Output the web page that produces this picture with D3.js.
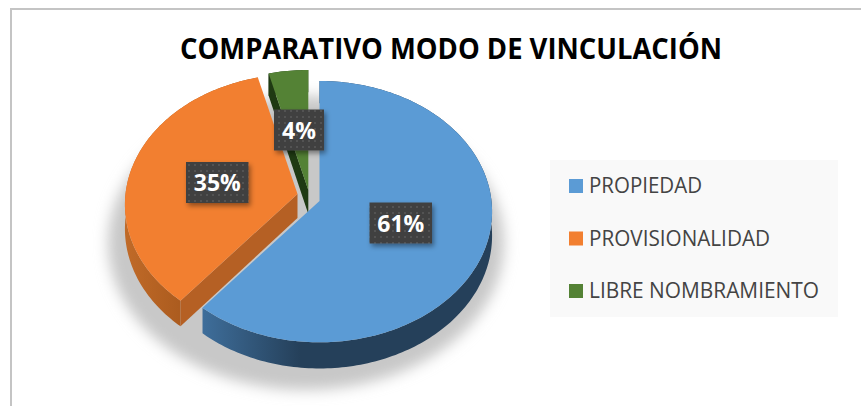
<!DOCTYPE html>
<html>
<head>
<meta charset="utf-8">
<script src="https://cdn.jsdelivr.net/npm/d3@7"></script>
<style>
  html, body { margin: 0; padding: 0; background: #fff; }
  svg { display: block; }
  text { font-family: "Open Sans", sans-serif; }
</style>
</head>
<body>
<div id="chart"></div>
<script>
const categories = ["PROPIEDAD", "PROVISIONALIDAD", "LIBRE NOMBRAMIENTO"];
const values = [61, 35, 4];
const title = "COMPARATIVO MODO DE VINCULACIÓN";

const colors = ["#5b9bd5", "#f27f30", "#548235"];
const W = 861, H = 406;

const svg = d3.select("#chart").append("svg").attr("width", W).attr("height", H);
const defs = svg.append("defs");

// Fake 3D: disk with a bit of perspective, front of the pie comes out larger
const rx = 172, ry = 129.8, persp = 0.0815, depth = 24;
// exploded apex of each slice
const apex = [[319.5, 201], [297.5, 194], [308.3, 190]];

function rim(a, i, down) {
  const X = Math.sin(a), Y = -Math.cos(a);
  const s = 1 / (1 - persp * Y);
  return [apex[i][0] + rx * X * s, apex[i][1] + ry * Y * s + (down ? depth * s : 0)];
}
function arcPoints(d, i, down) {
  const pts = d3.range(d.startAngle, d.endAngle, 0.02).map((a) => rim(a, i, down));
  pts.push(rim(d.endAngle, i, down));
  return pts;
}

const pie = d3.pie().sort(null);
const slices = pie(values);
const line = d3.line();

// Defs
const blur = defs.append("filter").attr("id", "soft").attr("x", "-20%").attr("y", "-20%").attr("width", "140%").attr("height", "140%");
blur.append("feGaussianBlur").attr("stdDeviation", 7);

const lblShadow = defs.append("filter").attr("id", "lblShadow").attr("x", "-30%").attr("y", "-30%").attr("width", "160%").attr("height", "160%");
lblShadow.append("feDropShadow").attr("dx", 2).attr("dy", 3).attr("stdDeviation", 2.5).attr("flood-color", "#000").attr("flood-opacity", 0.4);

const dots = defs.append("pattern").attr("id", "dots").attr("width", 6).attr("height", 6).attr("patternUnits", "userSpaceOnUse");
dots.append("rect").attr("width", 6).attr("height", 6).attr("fill", "#404040");
dots.append("rect").attr("x", 2).attr("y", 2).attr("width", 2).attr("height", 2).attr("fill", "#525252");

function wallGradient(id, x1, x2, c1, c2) {
  const g = defs.append("linearGradient").attr("id", id).attr("gradientUnits", "userSpaceOnUse")
    .attr("x1", x1).attr("x2", x2).attr("y1", 0).attr("y2", 0);
  g.append("stop").attr("offset", 0).attr("stop-color", c1);
  g.append("stop").attr("offset", 1).attr("stop-color", c2);
}
wallGradient("wallBlue", 200, 300, "#3f6f9c", "#25405a");
wallGradient("wallOrange", 125, 190, "#c06a28", "#a8591d");

// Frame
svg.append("path").attr("d", `M${11},${H}V${9}H${W}`).attr("fill", "none").attr("stroke", "#c4c4c4").attr("stroke-width", 2);

// Title
svg.append("text").attr("x", 180).attr("y", 58.5)
  .attr("font-size", 29).attr("font-weight", 700).attr("fill", "#000")
  .attr("textLength", 542).attr("lengthAdjust", "spacingAndGlyphs").text(title);

// Soft shadow under the pie
const shadowPts = d3.range(0, 2 * Math.PI, 0.05).map((a) => [306 + 198 * Math.sin(a), 243 - 147 * Math.cos(a)]);
svg.append("path").attr("d", line(shadowPts) + "Z").attr("fill", "#c8c8c8").attr("filter", "url(#soft)");

const pieG = svg.append("g");

function drawSlice(i) {
  const d = slices[i];
  const g = pieG.append("g");
  const top = arcPoints(d, i, false);
  const low = arcPoints(d, i, true);
  const ap = apex[i];
  const apLow = [ap[0], ap[1] + depth];

  const wallFill = ["url(#wallBlue)", "url(#wallOrange)", "#1f3a13"][i];
  g.append("path").attr("d", line(top.concat(low.slice().reverse())) + "Z").attr("fill", wallFill);

  // cut faces that look at the viewer, both sit on the slice's start angle
  if (i === 1 || i === 2) {
    g.append("path").attr("d", line([ap, top[0], low[0], apLow]) + "Z")
      .attr("fill", i === 1 ? "#b56024" : "#1f3a13");
  }
  g.append("path").attr("d", line([ap].concat(top)) + "Z").attr("fill", colors[i]);
}
[2, 1, 0].forEach(drawSlice);

// Data labels
const labelBoxes = [[369.5, 202.5, 62.5, 41], [186, 162, 62.5, 41], [274, 109.5, 50, 41]];
labelBoxes.forEach((b, i) => {
  svg.append("rect").attr("x", b[0]).attr("y", b[1]).attr("width", b[2]).attr("height", b[3])
    .attr("fill", "url(#dots)").attr("filter", "url(#lblShadow)");
  svg.append("text").attr("x", b[0] + b[2] / 2).attr("y", b[1] + 29)
    .attr("text-anchor", "middle").attr("font-size", 23).attr("font-weight", 700).attr("fill", "#fff")
    .text(d3.format(".0%")(values[i] / 100));
});

// Legend
const legendY = d3.scalePoint().domain(categories).range([186, 291]);
const legendLen = [113, 181, 230];
svg.append("rect").attr("x", 550).attr("y", 160).attr("width", 288).attr("height", 157).attr("fill", "#f9f9f9");
const leg = svg.selectAll(".leg").data(categories).join("g").attr("class", "leg")
  .attr("transform", (d) => `translate(0,${legendY(d)})`);
leg.append("rect").attr("x", 569).attr("y", -7).attr("width", 14).attr("height", 14).attr("fill", (d, i) => colors[i]);
leg.append("text").attr("x", 589).attr("y", 7).attr("font-size", 21).attr("fill", "#444")
  .attr("textLength", (d, i) => legendLen[i]).attr("lengthAdjust", "spacingAndGlyphs").text((d) => d);
</script>
</body>
</html>
